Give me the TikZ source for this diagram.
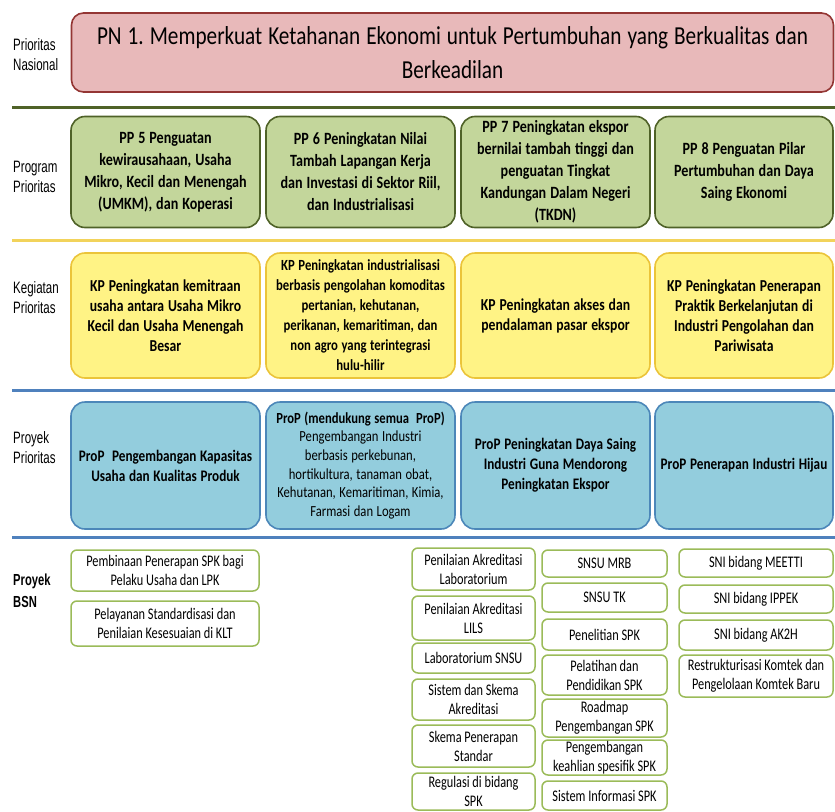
\documentclass[tikz,border=0pt]{standalone}
\usepackage{fontspec}
\setmainfont{Carlito}[FakeStretch=0.82, WordSpace=1.25]
\newfontfamily\labelfont{Liberation Sans}[FakeStretch=0.7]
\newfontfamily\bsnfont{Carlito}[FakeStretch=0.76]
\usepackage{tikz}
\usepackage{xcolor}
\definecolor{pnfill}{HTML}{E8B9BA}
\definecolor{pnline}{HTML}{943634}
\definecolor{ppfill}{HTML}{C3D69B}
\definecolor{ppline}{HTML}{4F6228}
\definecolor{kpfill}{HTML}{FFF385}
\definecolor{kpline}{HTML}{EBC43A}
\definecolor{propfill}{HTML}{93CDDD}
\definecolor{propline}{HTML}{4C87B9}
\definecolor{bsnline}{HTML}{9BBB59}
\definecolor{sepyellow}{HTML}{F2D35B}
\definecolor{sepblue}{HTML}{4F81BD}
\frenchspacing

\begin{document}
\begin{tikzpicture}[x=1pt, y=-1pt,
    bigbox/.style={rectangle, draw, line width=1.6pt, rounded corners=14pt, align=flush center,
      inner sep=2pt, font=\bfseries\fontsize{17.2}{22}\selectfont},
    ppbox/.style={bigbox, fill=ppfill, draw=ppline, minimum width=189, minimum height=111, text width=185},
    kpbox/.style={bigbox, fill=kpfill, draw=kpline, minimum width=189, minimum height=125, text width=185,
      font=\bfseries\fontsize{16.7}{20}\selectfont},
    propbox/.style={bigbox, fill=propfill, draw=propline, minimum width=189, minimum height=127, text width=185,
      font=\bfseries\fontsize{16.1}{20}\selectfont},
    bsnbox/.style={rectangle, draw=bsnline, line width=1.5pt, rounded corners=6pt, fill=white, align=center,
      inner sep=1pt, font=\bsnfont\fontsize{16.2}{19}\selectfont},
    rowlabel/.style={anchor=west, align=left, inner sep=0pt, font=\labelfont\fontsize{16.5}{20}\selectfont},
    sepline/.style={line width=3pt}]
  \useasboundingbox (0,0) rectangle (835,811);

  % separators between the rows
  \draw[sepline, draw=ppline] (12,107) -- (835,107);
  \draw[sepline, draw=sepyellow] (12,240) -- (835,240);
  \draw[sepline, draw=sepblue] (12,390) -- (835,390);
  \draw[sepline, draw=sepblue] (12,537) -- (835,537);

  % row labels
  \node (lblPN) [rowlabel] at (13,55) {Prioritas\\Nasional};
  \node (lblPP) [rowlabel] at (13,177) {Program\\Prioritas};
  \node (lblKP) [rowlabel] at (13,298) {Kegiatan\\Prioritas};
  \node (lblProP) [rowlabel] at (13,448) {Proyek\\Prioritas};
  \node (lblBSN) [rowlabel, font=\labelfont\bfseries\fontsize{16}{22}\selectfont] at (13,591) {Proyek\\BSN};

  % prioritas nasional
  \node (pn) [rectangle, draw=pnline, fill=pnfill, line width=1.6pt, rounded corners=12pt,
    minimum width=762, minimum height=79, text width=758, align=flush center, inner sep=2pt,
    font=\fontsize{25.9}{34}\selectfont] at (452.5,52.5) {
    PN 1. Memperkuat Ketahanan Ekonomi untuk Pertumbuhan yang Berkualitas dan\\
    Berkeadilan
  };

  % program prioritas
  \node (pp5) [ppbox] at (165.5,172) {PP 5 Penguatan\\kewirausahaan, Usaha\\Mikro, Kecil dan Menengah\\(UMKM), dan Koperasi};
  \node (pp6) [ppbox] at (360.5,172) {PP 6 Peningkatan Nilai\\Tambah Lapangan Kerja\\dan Investasi di Sektor Riil,\\dan Industrialisasi};
  \node (pp7) [ppbox] at (555.5,172) {PP 7 Peningkatan ekspor\\bernilai tambah tinggi dan\\penguatan Tingkat\\Kandungan Dalam Negeri\\(TKDN)};
  \node (pp8) [ppbox, minimum width=178, text width=174] at (744,172) {PP 8 Penguatan Pilar\\Pertumbuhan dan Daya\\Saing Ekonomi};

  % kegiatan prioritas
  \node (kp1) [kpbox] at (165.5,315.5) {KP Peningkatan kemitraan\\usaha antara Usaha Mikro\\Kecil dan Usaha Menengah\\Besar};
  \node (kp2) [kpbox, font=\bfseries\fontsize{15.5}{20}\selectfont] at (360.5,315.5) {KP Peningkatan industrialisasi\\berbasis pengolahan komoditas\\pertanian, kehutanan,\\perikanan, kemaritiman, dan\\non agro yang terintegrasi\\hulu-hilir};
  \node (kp3) [kpbox] at (555.5,315.5) {KP Peningkatan akses dan\\pendalaman pasar ekspor};
  \node (kp4) [kpbox, minimum width=178, text width=174] at (744,315.5) {KP Peningkatan Penerapan\\Praktik Berkelanjutan di\\Industri Pengolahan dan\\Pariwisata};

  % proyek prioritas
  \node (prop1) [propbox] at (165.5,465.5) {ProP\ \ Pengembangan Kapasitas\\Usaha dan Kualitas Produk};
  \node (prop2) [propbox, font=\fontsize{15.4}{18.7}\selectfont] at (360.5,465.5) {\textbf{ProP (mendukung semua\ \ ProP)}\\Pengembangan Industri\\berbasis perkebunan,\\hortikultura, tanaman obat,\\Kehutanan, Kemaritiman, Kimia,\\Farmasi dan Logam};
  \node (prop3) [propbox] at (555.5,465.5) {ProP Peningkatan Daya Saing\\Industri Guna Mendorong\\Peningkatan Ekspor};
  \node (prop4) [propbox, minimum width=178, text width=174] at (744,465.5) {ProP Penerapan Industri Hijau};

  % proyek BSN, left
  \node (spkLPK) [bsnbox, minimum width=188, minimum height=41] at (165,570.5) {Pembinaan Penerapan SPK bagi\\Pelaku Usaha dan LPK};
  \node (klt) [bsnbox, minimum width=188, minimum height=45] at (165,623.5) {Pelayanan Standardisasi dan\\Penilaian Kesesuaian di KLT};

  % proyek BSN, first column
  \node (akrLab) [bsnbox, minimum width=123, minimum height=42] at (473.5,569) {Penilaian Akreditasi\\Laboratorium};
  \node (akrLILS) [bsnbox, minimum width=123, minimum height=44] at (473.5,618) {Penilaian Akreditasi\\LILS};
  \node (labSNSU) [bsnbox, minimum width=123, minimum height=30] at (473.5,658) {Laboratorium SNSU};
  \node (skemaAkr) [bsnbox, minimum width=123, minimum height=41] at (473.5,699.5) {Sistem dan Skema\\Akreditasi};
  \node (skemaStd) [bsnbox, minimum width=123, minimum height=42] at (473.5,746) {Skema Penerapan\\Standar};
  \node (regSPK) [bsnbox, minimum width=123, minimum height=37] at (473.5,791.5) {Regulasi di bidang\\SPK};

  % proyek BSN, second column
  \node (mrb) [bsnbox, minimum width=125, minimum height=27] at (604.5,563.5) {SNSU MRB};
  \node (tk) [bsnbox, minimum width=125, minimum height=29] at (604.5,597.5) {SNSU TK};
  \node (penSPK) [bsnbox, minimum width=125, minimum height=31] at (604.5,634.5) {Penelitian SPK};
  \node (latSPK) [bsnbox, minimum width=125, minimum height=40] at (604.5,675) {Pelatihan dan\\Pendidikan SPK};
  \node (roadSPK) [bsnbox, minimum width=125, minimum height=38] at (604.5,718) {Roadmap\\Pengembangan SPK};
  \node (ahliSPK) [bsnbox, minimum width=125, minimum height=35] at (604.5,757.5) {Pengembangan\\keahlian spesifik SPK};
  \node (infoSPK) [bsnbox, minimum width=125, minimum height=29] at (604.5,795.5) {Sistem Informasi SPK};

  % proyek BSN, third column
  \node (meetti) [bsnbox, minimum width=154, minimum height=28] at (756,563) {SNI bidang MEETTI};
  \node (ippek) [bsnbox, minimum width=154, minimum height=28] at (756,599) {SNI bidang IPPEK};
  \node (ak2h) [bsnbox, minimum width=154, minimum height=30] at (756,635) {SNI bidang AK2H};
  \node (komtek) [bsnbox, minimum width=154, minimum height=42] at (756,676) {Restrukturisasi Komtek dan\\Pengelolaan Komtek Baru};
\end{tikzpicture}
\end{document}
